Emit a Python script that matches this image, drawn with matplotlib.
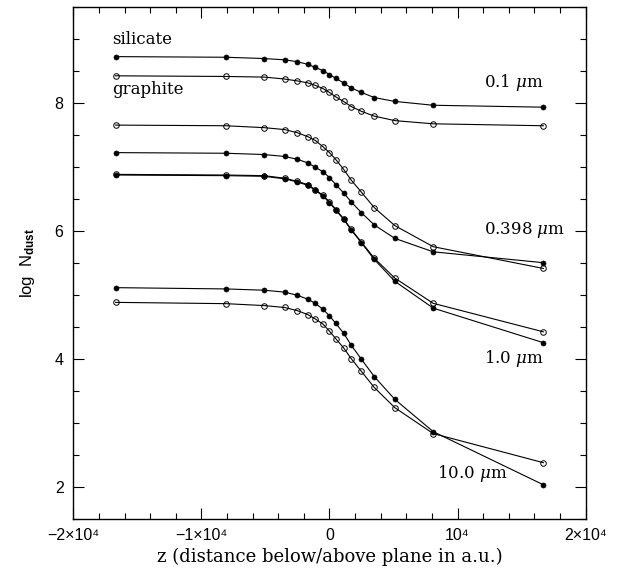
import matplotlib
matplotlib.use('Agg')
import matplotlib.pyplot as plt
from matplotlib.ticker import MultipleLocator, FixedLocator

plt.rcParams['mathtext.fontset'] = 'custom'
plt.rcParams['mathtext.rm'] = 'Liberation Sans'
plt.rcParams['mathtext.bf'] = 'Liberation Sans:bold'
plt.rcParams['mathtext.it'] = 'DejaVu Serif:italic'

# z (a.u.) dei punti
z = [-16700, -8100, -5100, -3500, -2500, -1700, -1100, -500, 0,
     500, 1100, 1700, 2500, 3500, 5100, 8100, 16700]

# log N_dust, silicati (pieni) e grafite (vuoti)
sil_01 = [8.73, 8.72, 8.70, 8.68, 8.65, 8.61, 8.56, 8.51, 8.45,
          8.39, 8.32, 8.24, 8.17, 8.09, 8.03, 7.97, 7.94]
gra_01 = [8.43, 8.42, 8.41, 8.38, 8.35, 8.32, 8.28, 8.23, 8.17,
          8.10, 8.03, 7.95, 7.875, 7.80, 7.73, 7.68, 7.65]

sil_0398 = [7.23, 7.22, 7.20, 7.17, 7.125, 7.07, 7.00, 6.93, 6.84,
            6.73, 6.60, 6.46, 6.29, 6.10, 5.89, 5.68, 5.51]
gra_0398 = [7.66, 7.65, 7.62, 7.59, 7.54, 7.48, 7.42, 7.32, 7.23,
            7.12, 6.97, 6.80, 6.61, 6.37, 6.09, 5.76, 5.42]

sil_1 = [6.88, 6.87, 6.86, 6.82, 6.77, 6.72, 6.64, 6.55, 6.45,
         6.33, 6.19, 6.02, 5.82, 5.56, 5.22, 4.80, 4.26]
gra_1 = [6.89, 6.88, 6.87, 6.83, 6.78, 6.73, 6.65, 6.56, 6.46,
         6.34, 6.20, 6.03, 5.83, 5.58, 5.27, 4.875, 4.43]

sil_10 = [5.12, 5.10, 5.08, 5.05, 5.00, 4.94, 4.875, 4.78, 4.68,
          4.56, 4.41, 4.22, 4.00, 3.73, 3.375, 2.87, 2.04]
gra_10 = [4.89, 4.87, 4.84, 4.81, 4.76, 4.70, 4.63, 4.55, 4.44,
          4.32, 4.18, 4.01, 3.81, 3.56, 3.245, 2.84, 2.385]

etichette_size = ['0.1 $\\mu$m', '0.398 $\\mu$m', '1.0 $\\mu$m', '10.0 $\\mu$m']
pos_etichette = [(12060, 8.33), (12060, 6.02), (12060, 4.02), (8390, 2.22)]

xtick_val = [-20000, -10000, 0, 10000, 20000]
xtick_lab = ['\u22122\u00d710\u2074', '\u22121\u00d710\u2074', '0', '10\u2074', '2\u00d710\u2074']
ytick_val = [2, 4, 6, 8]

fig = plt.figure(figsize=(6.23, 5.69), dpi=100)
ax = fig.add_axes([0.1177, 0.0873, 0.8223, 0.8998])

for sil, gra in [(sil_01, gra_01), (sil_0398, gra_0398), (sil_1, gra_1), (sil_10, gra_10)]:
    ax.plot(z, gra, '-', color='black', lw=0.8, marker='o', ms=4.0,
            mfc='none', mec='black', mew=0.7)
    ax.plot(z, sil, '-', color='black', lw=0.8, marker='o', ms=3.6,
            mfc='black', mec='black', mew=0.5)

font_testo = dict(family='DejaVu Serif', fontsize=12)
ax.text(-17000, 9.0, 'silicate', ha='left', va='center', **font_testo)
ax.text(-17000, 8.22, 'graphite', ha='left', va='center', **font_testo)
for lab, (xx, yy) in zip(etichette_size, pos_etichette):
    ax.text(xx, yy, lab, ha='left', va='center', **font_testo)

ax.set_xlim(-20000, 20000)
ax.set_ylim(1.5, 9.5)
ax.xaxis.set_major_locator(FixedLocator(xtick_val))
ax.set_xticklabels(xtick_lab)
ax.xaxis.set_minor_locator(MultipleLocator(2000))
ax.yaxis.set_major_locator(FixedLocator(ytick_val))
ax.yaxis.set_minor_locator(MultipleLocator(0.5))

ax.tick_params(which='both', direction='in', top=True, right=True, width=0.8)
ax.tick_params(which='major', length=8, labelsize=11.5)
ax.tick_params(axis='x', which='major', pad=6)
ax.tick_params(axis='y', which='major', pad=7)
ax.tick_params(which='minor', length=4)
for lab in ax.get_xticklabels() + ax.get_yticklabels():
    lab.set_family(['Liberation Sans', 'DejaVu Sans'])
for sp in ax.spines.values():
    sp.set_linewidth(1.0)

ax.set_xlabel('z (distance below/above plane in a.u.)', family='DejaVu Serif',
              fontsize=13, labelpad=4)
ax.set_ylabel('log  N$_{\\mathbf{dust}}$', family='Liberation Sans', fontsize=12,
              labelpad=13)

fig.savefig('out.png', dpi=100)
